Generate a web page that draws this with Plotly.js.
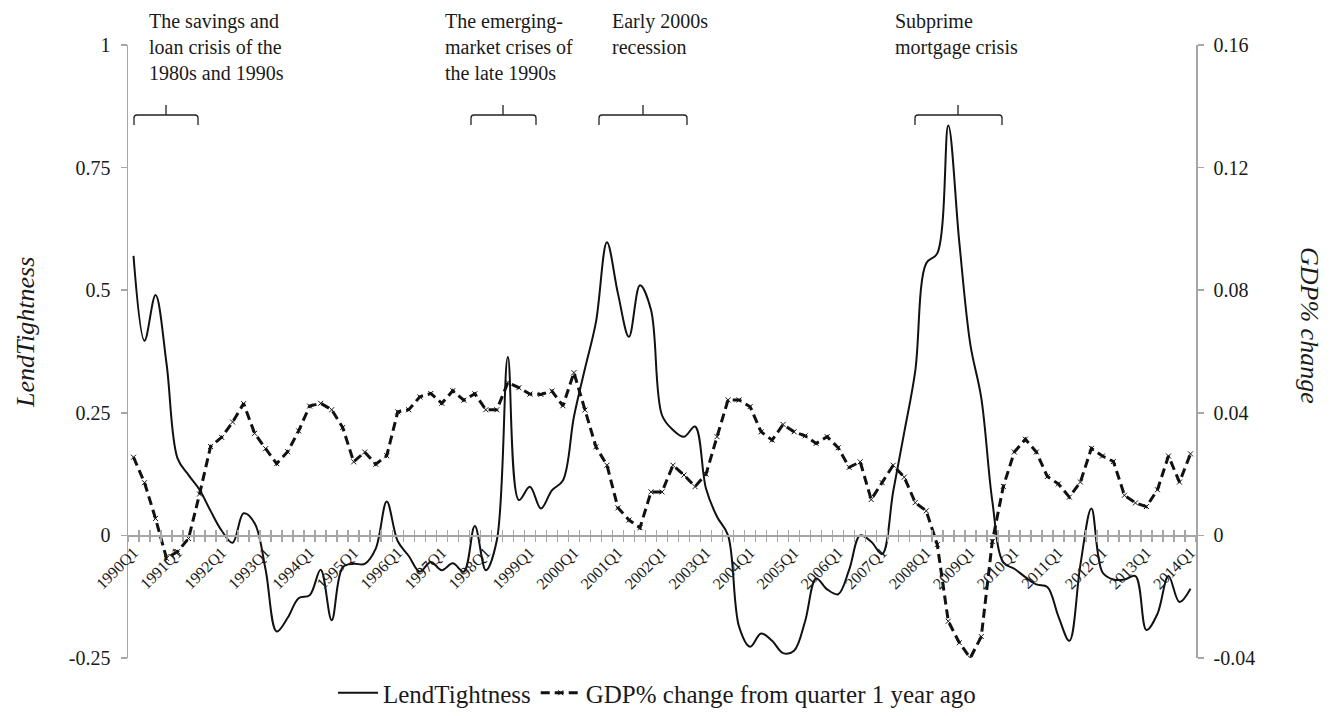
<!DOCTYPE html>
<html>
<head>
<meta charset="utf-8">
<script src="https://cdn.plot.ly/plotly-3.0.1.min.js"></script>
<style>html,body{margin:0;padding:0;background:#fff;}#chart{width:1336px;height:716px;}</style>
</head>
<body>
<div id="chart"></div>
<script>
// ---- categories (quarters 1990Q1 .. 2014Q1) ----
const quarters = [];
for (let y = 1990; y <= 2014; y++) {
  for (let q = 1; q <= 4; q++) {
    if (y === 2014 && q > 1) break;
    quarters.push(y + 'Q' + q);
  }
}
const xTickText = quarters.map(function (q) { return q.endsWith('Q1') ? q : ''; });

// ---- series values ----
const lendTightness = [
  0.57, 0.397, 0.49, 0.35, 0.157, 0.123, 0.093, 0.05,
  0.01, -0.015, 0.045, 0.025, -0.07, -0.196, -0.168, -0.128,
  -0.122, -0.07, -0.173, -0.065, -0.058, -0.058, -0.027, 0.069,
  -0.012, -0.042, -0.074, -0.054, -0.071, -0.057, -0.074, 0.019,
  -0.071, -0.01, 0.364, 0.072, 0.099, 0.055, 0.092, 0.112,
  0.242, 0.34, 0.435, 0.598, 0.493, 0.405, 0.51, 0.46,
  0.245, 0.215, 0.201, 0.222, 0.095, 0.038, 0.0, -0.186,
  -0.227, -0.2, -0.215, -0.24, -0.235, -0.175, -0.088, -0.11,
  -0.12, -0.07, 0.0, -0.013, -0.038, 0.09, 0.21, 0.335,
  0.555, 0.575, 0.836, 0.598, 0.39, 0.28, 0.07, -0.055,
  -0.068, -0.085, -0.10, -0.105, -0.165, -0.215, -0.06, 0.055,
  -0.075, -0.09, -0.09, -0.083, -0.193, -0.16, -0.083, -0.136,
  -0.109
];
const gdpChange = [
  0.0255, 0.0172, 0.0055, -0.0075, -0.0053, -0.001, 0.0135, 0.029,
  0.032, 0.037, 0.043, 0.0333, 0.0283, 0.0234, 0.0273, 0.0341,
  0.0422, 0.0431, 0.041, 0.0352, 0.024, 0.0272, 0.0232, 0.026,
  0.0403, 0.041, 0.0452, 0.0463, 0.0431, 0.0472, 0.0441, 0.0462,
  0.041, 0.041, 0.0499, 0.0482, 0.0461, 0.046, 0.0471, 0.0423,
  0.0531, 0.0409, 0.0289, 0.0229, 0.009, 0.005, 0.0025, 0.0142,
  0.0142, 0.0229, 0.0197, 0.0159, 0.0200, 0.0322, 0.0442, 0.0442,
  0.042, 0.0338, 0.0311, 0.0362, 0.0338, 0.0325, 0.030, 0.0322,
  0.0286, 0.0222, 0.024, 0.0117, 0.0172, 0.0229, 0.019, 0.0107,
  0.008, -0.003, -0.028, -0.035, -0.040, -0.033, -0.002, 0.016,
  0.0272, 0.0314, 0.0272, 0.0192, 0.0168, 0.0125, 0.0174, 0.0284,
  0.0259, 0.0241, 0.0131, 0.0106, 0.0094, 0.0149, 0.0259, 0.0174,
  0.0266
];

// ---- axis tick labels ----
const leftTickVals = [-0.25, 0, 0.25, 0.5, 0.75, 1];
const leftTickText = ['-0.25', '0', '0.25', '0.5', '0.75', '1'];
const rightTickVals = [-0.04, 0, 0.04, 0.08, 0.12, 0.16];
const rightTickText = ['-0.04', '0', '0.04', '0.08', '0.12', '0.16'];

// ---- crisis notes ----
const crisisNotes = [
  'The savings and<br>loan crisis of the<br>1980s and 1990s',
  'The emerging-<br>market crises of<br>the late 1990s',
  'Early 2000s<br>recession',
  'Subprime<br>mortgage crisis'
];

const FONT = 'Liberation Serif, Times New Roman, serif';
const AXC = '#a6a6a6';
const TXT = '#1a1a1a';

// plot-area pixel helpers for decoration placement
const W = 1336, H = 716;
const PL = 128, PW = 1068, PT = 45, PH = 613;
const px = function (x) { return (x - PL) / PW; };
const py = function (y) { return (PT + PH - y) / PH; };

const noteX = [147, 443, 610, 893];
const brackets = [[134, 198, 166], [471, 536, 503], [599, 687, 643], [915, 1002, 958]];

const shapes = brackets.map(function (b) {
  const x0 = px(b[0]), x1 = px(b[1]), xm = px(b[2]);
  const yh = py(115), yb = py(125), yt = py(105);
  const d = 3 / PW, dy = 3 / PH;
  return {
    type: 'path', xref: 'paper', yref: 'paper',
    path: 'M ' + x0 + ',' + yb + ' L ' + x0 + ',' + (yh - dy) +
          ' Q ' + x0 + ',' + yh + ' ' + (x0 + d) + ',' + yh +
          ' L ' + (x1 - d) + ',' + yh +
          ' Q ' + x1 + ',' + yh + ' ' + x1 + ',' + (yh - dy) +
          ' L ' + x1 + ',' + yb +
          ' M ' + xm + ',' + yh + ' L ' + xm + ',' + yt,
    line: { color: '#222', width: 1.3 }
  };
});

const annotations = crisisNotes.map(function (t, i) {
  return {
    text: t, xref: 'paper', yref: 'paper', x: px(noteX[i]), y: py(8),
    xanchor: 'left', yanchor: 'top', align: 'left', showarrow: false,
    font: { family: FONT, size: 20, color: TXT }
  };
});
annotations.push({
  text: '<i>LendTightness</i>', xref: 'paper', yref: 'paper', x: px(25), y: py(333),
  xanchor: 'center', yanchor: 'middle', textangle: -90, showarrow: false,
  font: { family: FONT, size: 26, color: TXT }
});
annotations.push({
  text: '<i>GDP% change</i>', xref: 'paper', yref: 'paper', x: px(1310), y: py(325),
  xanchor: 'center', yanchor: 'middle', textangle: 90, showarrow: false,
  font: { family: FONT, size: 26, color: TXT }
});

const traces = [
  {
    name: 'LendTightness', x: quarters, y: lendTightness,
    type: 'scatter', mode: 'lines', xaxis: 'x', yaxis: 'y',
    line: { color: '#111', width: 2, shape: 'spline', smoothing: 1 }
  },
  {
    name: 'GDP% change from quarter 1 year ago', x: quarters, y: gdpChange,
    type: 'scatter', mode: 'lines+markers', xaxis: 'x2', yaxis: 'y2',
    line: { color: '#111', width: 3, dash: '9px,5px' },
    marker: { symbol: 'x-thin', size: 5, color: '#111', line: { color: '#111', width: 1 } }
  }
];

const xCommon = {
  type: 'category', categoryorder: 'array', categoryarray: quarters,
  range: [-0.5, quarters.length - 0.5], autorange: false,
  tickmode: 'array', tickvals: quarters, ticktext: xTickText, tickson: 'boundaries',
  tickangle: -45, ticklen: 5, tickwidth: 1.5, tickcolor: AXC,
  showline: true, linecolor: AXC, linewidth: 1.5,
  showgrid: false, zeroline: false, anchor: 'free', position: 0.2,
  tickfont: { family: FONT, size: 16, color: TXT }
};

const layout = {
  width: W, height: H,
  margin: { l: PL, r: W - PL - PW, t: PT, b: H - PT - PH, autoexpand: false },
  paper_bgcolor: '#fff', plot_bgcolor: '#fff',
  showlegend: true,
  legend: {
    orientation: 'h', xref: 'container', yref: 'container',
    x: 657 / W, xanchor: 'center', y: -0.012, yanchor: 'bottom',
    font: { family: FONT, size: 25, color: TXT }, itemwidth: 40, tracegroupgap: 0
  },
  xaxis: Object.assign({}, xCommon, { ticks: 'outside' }),
  xaxis2: Object.assign({}, xCommon, { ticks: 'inside', overlaying: 'x', showticklabels: false, matches: 'x' }),
  yaxis: {
    range: [-0.25, 1], autorange: false, tickmode: 'array',
    tickvals: leftTickVals, ticktext: leftTickText,
    ticks: 'outside', ticklen: 6, tickwidth: 1.5, tickcolor: AXC,
    showline: true, linecolor: AXC, linewidth: 1.5, showgrid: false, zeroline: false,
    tickfont: { family: FONT, size: 20, color: TXT }, ticklabelstandoff: 6
  },
  yaxis2: {
    range: [-0.04, 0.16], autorange: false, tickmode: 'array',
    tickvals: rightTickVals, ticktext: rightTickText,
    overlaying: 'y', side: 'right', anchor: 'x2',
    ticks: 'outside', ticklen: 6, tickwidth: 1.5, tickcolor: AXC,
    showline: true, linecolor: AXC, linewidth: 1.5, showgrid: false, zeroline: false,
    tickfont: { family: FONT, size: 20, color: TXT }, ticklabelstandoff: 6
  },
  shapes: shapes,
  annotations: annotations
};

Plotly.newPlot('chart', traces, layout, { displayModeBar: false, staticPlot: true });
</script>
</body>
</html>
